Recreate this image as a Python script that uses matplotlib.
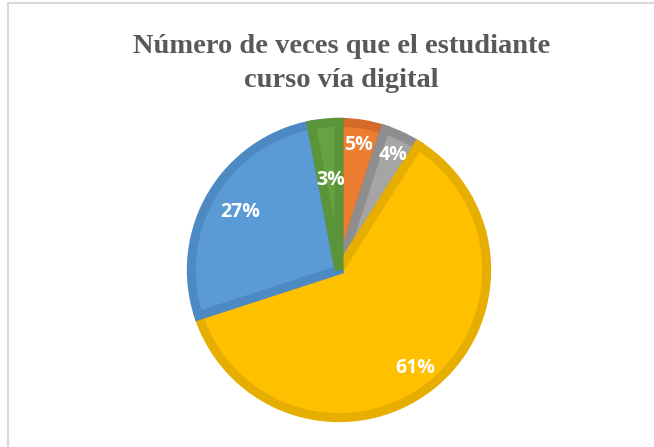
import numpy as np
import matplotlib.pyplot as plt
from matplotlib.lines import Line2D

# Datos (porcentajes, en sentido horario desde arriba)
categorias = ['A', 'B', 'C', 'D', 'E']
porcentajes = [5, 4, 61, 27, 3]
etiquetas = ['5%', '4%', '61%', '27%', '3%']

colores = ['#ED7D31', '#A5A5A5', '#FFC000', '#5B9BD5', '#67A343']
bordes = ['#D46B29', '#8E8E8E', '#E6AE00', '#4D8AC4', '#5A953A']
# distancia radial de cada etiqueta (estilo "mejor ajuste" de Excel)
dist_etiqueta = [0.83, 0.83, 0.81, 0.75, 0.59]

fig = plt.figure(figsize=(6.54, 4.47), dpi=100)
fig.patch.set_facecolor('white')

# marco del gráfico (solo izquierda y arriba visibles)
fig.add_artist(Line2D([8 / 654, 8 / 654], [0, 1 - 3 / 447], color='#D9D9D9', lw=1.5,
                      transform=fig.transFigure))
fig.add_artist(Line2D([8 / 654, 1], [1 - 3 / 447, 1 - 3 / 447], color='#D9D9D9', lw=1.5,
                      transform=fig.transFigure))

fig.text(0.522, 0.925, 'Número de veces que el estudiante\ncurso vía digital',
         ha='center', va='top', fontsize=20.5, fontweight='bold',
         family='Liberation Serif', color='#595959', linespacing=1.5)

cx, cy, r = 339, 270, 153
ax = fig.add_axes([(cx - r) / 654, (447 - cy - r) / 447, 2 * r / 654, 2 * r / 447])
wedges, _ = ax.pie(porcentajes, colors=colores, startangle=90, counterclock=False,
                   radius=0.965, wedgeprops=dict(linewidth=6.5, joinstyle='miter'))
for w, b in zip(wedges, bordes):
    w.set_edgecolor(b)

for w, lab, d in zip(wedges, etiquetas, dist_etiqueta):
    ang = np.deg2rad((w.theta1 + w.theta2) / 2)
    ax.text(d * np.cos(ang), d * np.sin(ang), lab, ha='center', va='center',
            fontsize=14, fontweight='bold', family='Open Sans', color='white')

ax.set_xlim(-1, 1)
ax.set_ylim(-1, 1)
ax.set_aspect('equal')
ax.axis('off')

plt.savefig('out.png', dpi=100)
plt.close()
